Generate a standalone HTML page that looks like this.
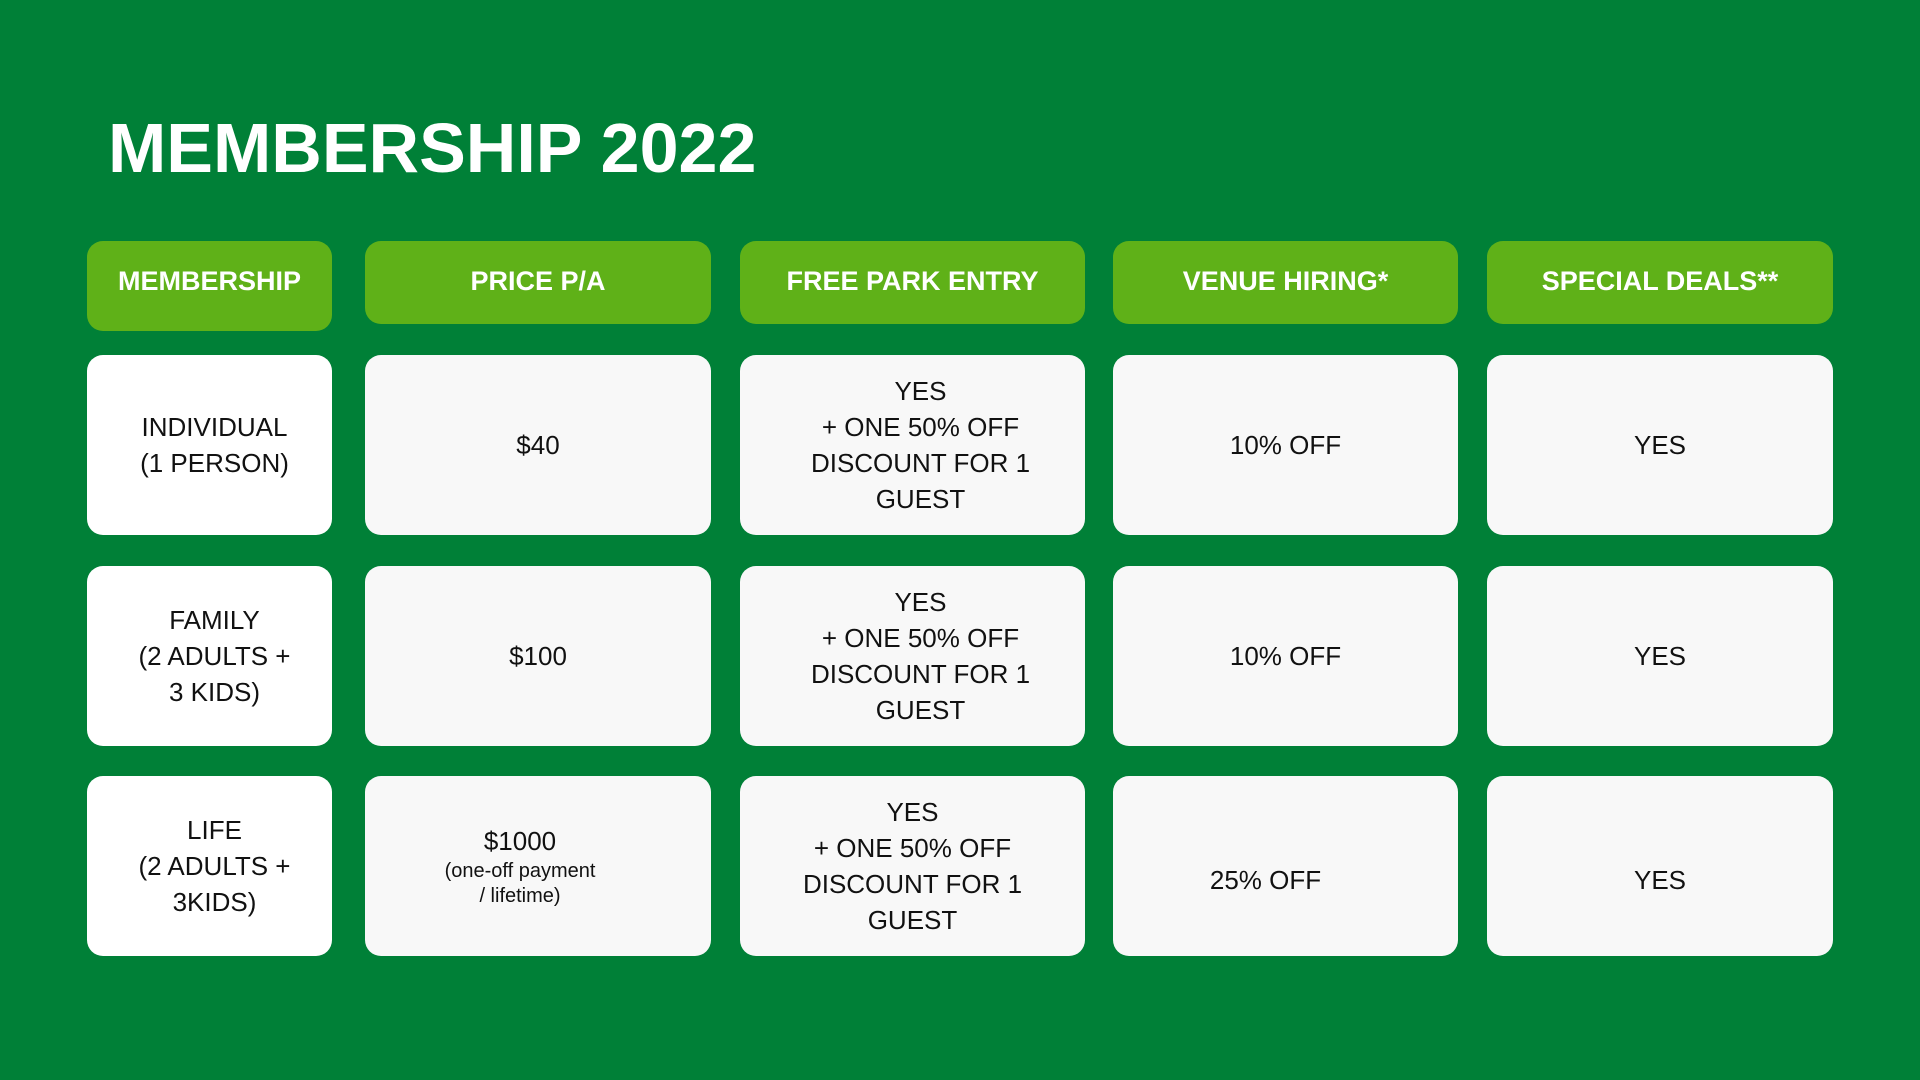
<!DOCTYPE html>
<html><head><meta charset="utf-8"><style>
*{margin:0;padding:0;box-sizing:border-box}
body{width:1920px;height:1080px;background:#008037;position:relative;overflow:hidden;font-family:"Liberation Sans",sans-serif}
h1{position:absolute;left:108px;top:108px;font-size:70px;font-weight:bold;color:#fff;letter-spacing:0px;white-space:nowrap;line-height:80px}
.c{position:absolute;display:flex;align-items:center;justify-content:center;text-align:center;border-radius:16px;color:#111;font-size:26px;line-height:36px}
.h{background:#5fb118;color:#fff;font-weight:bold;font-size:27px;padding-bottom:4px}
.w{background:#fff}.g{background:#f8f8f8}
.small{font-size:20px;line-height:25px;display:block}
</style></head><body>
<h1>MEMBERSHIP 2022</h1>

<div class="c h" style="left:87px;top:241px;width:245px;height:90px;padding-bottom:10px">MEMBERSHIP</div>
<div class="c h" style="left:365px;top:241px;width:346px;height:83px">PRICE P/A</div>
<div class="c h" style="left:740px;top:241px;width:345px;height:83px">FREE PARK ENTRY</div>
<div class="c h" style="left:1113px;top:241px;width:345px;height:83px">VENUE HIRING*</div>
<div class="c h" style="left:1487px;top:241px;width:346px;height:83px">SPECIAL DEALS**</div>

<div class="c w" style="left:87px;top:355px;width:245px;height:180px;padding-left:10px">INDIVIDUAL<br>(1 PERSON)</div>
<div class="c g" style="left:365px;top:355px;width:346px;height:180px">$40</div>
<div class="c g" style="left:740px;top:355px;width:345px;height:180px;padding-left:16px">YES<br>+ ONE 50% OFF<br>DISCOUNT FOR 1<br>GUEST</div>
<div class="c g" style="left:1113px;top:355px;width:345px;height:180px">10% OFF</div>
<div class="c g" style="left:1487px;top:355px;width:346px;height:180px">YES</div>

<div class="c w" style="left:87px;top:566px;width:245px;height:180px;padding-left:10px">FAMILY<br>(2 ADULTS +<br>3 KIDS)</div>
<div class="c g" style="left:365px;top:566px;width:346px;height:180px">$100</div>
<div class="c g" style="left:740px;top:566px;width:345px;height:180px;padding-left:16px">YES<br>+ ONE 50% OFF<br>DISCOUNT FOR 1<br>GUEST</div>
<div class="c g" style="left:1113px;top:566px;width:345px;height:180px">10% OFF</div>
<div class="c g" style="left:1487px;top:566px;width:346px;height:180px">YES</div>

<div class="c w" style="left:87px;top:776px;width:245px;height:180px;padding-left:10px">LIFE<br>(2 ADULTS +<br>3KIDS)</div>
<div class="c g" style="left:365px;top:776px;width:346px;height:180px;padding-right:36px"><div>$1000<span class="small">(one-off payment<br>/ lifetime)</span></div></div>
<div class="c g" style="left:740px;top:776px;width:345px;height:180px">YES<br>+ ONE 50% OFF<br>DISCOUNT FOR 1<br>GUEST</div>
<div class="c g" style="left:1113px;top:776px;width:345px;height:180px;padding-right:40px;padding-top:28px">25% OFF</div>
<div class="c g" style="left:1487px;top:776px;width:346px;height:180px;padding-top:28px">YES</div>
</body></html>
